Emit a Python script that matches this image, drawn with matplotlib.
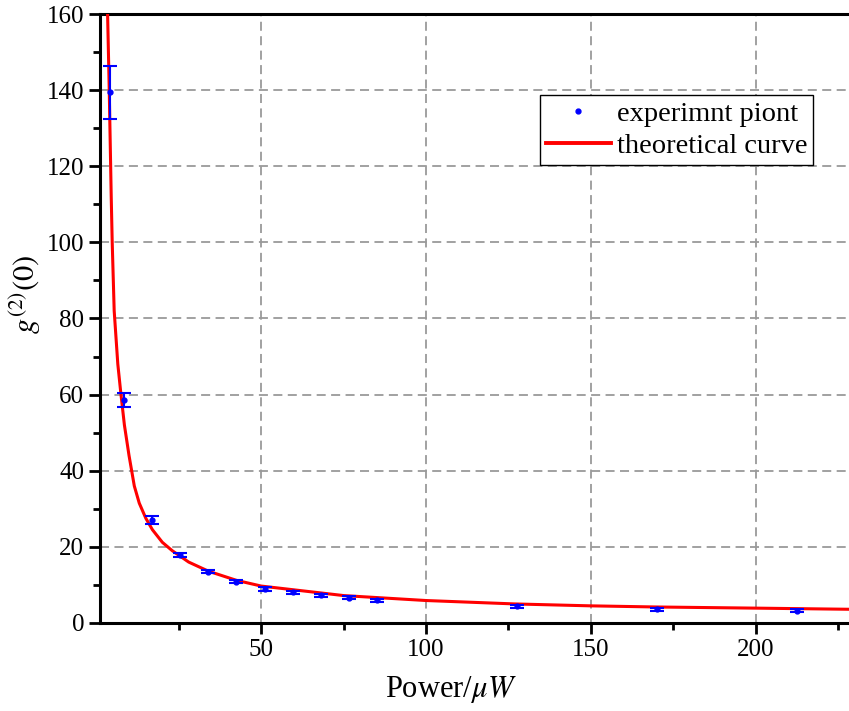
import matplotlib
matplotlib.use("Agg")
import numpy as np
import matplotlib.pyplot as plt
from matplotlib.lines import Line2D

#%% data
power = [4.25, 8.5, 17.0, 25.5, 34.0, 42.5, 51.0, 59.5, 68.0, 76.5, 85.0, 127.5, 170.0, 212.5]
g2 = [139.4, 58.6, 27.1, 17.8, 13.4, 10.8, 8.9, 8.1, 7.3, 6.6, 6.0, 4.4, 3.6, 3.2]
g2_err = [7.0, 1.9, 1.0, 0.5, 0.4, 0.4, 0.5, 0.4, 0.4, 0.4, 0.4, 0.4, 0.4, 0.4]

curve_p = [3.4, 3.9, 4.5, 4.8, 5.4, 6.5, 7.4, 8.5, 9.9, 11.5, 13.0, 15.0, 17.0,
           20.0, 23.0, 28.0, 34.0, 42.5, 50.0, 75.0, 100.0, 127.0, 150.0, 170.0,
           200.0, 228.5]
curve_g = [160, 140, 112, 100, 82, 68, 60.5, 52, 44, 36, 31.5, 27.5, 24.5,
           21.2, 19.0, 16.0, 13.6, 11.2, 9.7, 7.2, 5.9, 5.0, 4.5, 4.2,
           3.9, 3.6]

xticks = [50, 100, 150, 200]
yticks = [0, 20, 40, 60, 80, 100, 120, 140, 160]

#%% style
plt.rcParams['font.family'] = ['Liberation Serif', 'DejaVu Serif']
plt.rcParams['mathtext.fontset'] = 'stix'

fig = plt.figure(figsize=(8.49, 7.11), dpi=100)
ax = fig.add_axes([0.1178, 0.1238, 0.8822, 0.8565])

ax.plot(curve_p, curve_g, color='red', lw=2.2, label='theoretical curve', zorder=3)
ax.errorbar(power, g2, yerr=g2_err, fmt='o', color='blue', ms=3.5, elinewidth=1.5,
            capsize=5, capthick=1.5, label='experimnt piont', zorder=4)

ax.set_xlim(1.1, 228.3)
ax.set_ylim(0, 160)
ax.set_xticks(xticks)
ax.set_yticks(yticks)
ax.set_xticks([25, 75, 125, 175, 225], minor=True)
ax.set_yticks(np.arange(10, 160, 20), minor=True)

ax.grid(True, which='major', color='#9a9a9a', ls=(0, (5, 3)), lw=1.3)
ax.set_axisbelow(True)

ax.tick_params(which='major', direction='out', length=8, width=2, labelsize=18)
ax.tick_params(which='minor', direction='out', length=5, width=2)
ax.tick_params(top=False, right=False)
for s in ['left', 'bottom', 'top']:
    ax.spines[s].set_linewidth(2.2)
ax.spines['right'].set_visible(False)

ax.set_xlabel(r'Power/$\mu W$', fontsize=22)
ax.set_ylabel(r'$g^{(2)}(0)$', fontsize=22)
ax.xaxis.set_label_coords(0.469, -0.083)
ax.yaxis.set_label_coords(-0.076, 0.54)

h = [Line2D([], [], ls='none', marker='o', ms=3.5, color='blue'),
     Line2D([], [], color='red', lw=2.8)]
leg = ax.legend(h, ['experimnt piont', 'theoretical curve'], loc='upper right',
                bbox_to_anchor=(0.952, 0.867), fontsize=20.5, frameon=True,
                fancybox=False, edgecolor='black', framealpha=1,
                handlelength=2.3, borderpad=0.2, labelspacing=0.22,
                handletextpad=0.2, borderaxespad=0)
leg.get_frame().set_linewidth(1.0)

fig.savefig('out.png', dpi=100)
